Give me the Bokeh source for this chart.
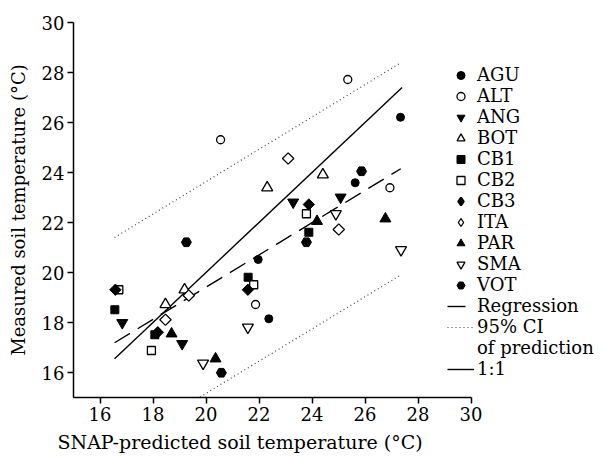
import numpy as np
from bokeh.plotting import figure
from bokeh.models import Range1d, Legend, LegendItem, FixedTicker, Title
from bokeh.embed import file_html
from bokeh.resources import INLINE

x_ticks = [16, 18, 20, 22, 24, 26, 28, 30]
y_ticks = [16, 18, 20, 22, 24, 26, 28, 30]

agu_x = [27.34, 25.63, 21.97, 22.37]; agu_y = [26.21, 23.59, 20.52, 18.15]
alt_x = [25.35, 20.55, 26.94, 21.87]; alt_y = [27.72, 25.31, 23.39, 18.72]
ang_x = [23.29, 25.08, 16.84, 19.10]; ang_y = [22.81, 23.01, 17.99, 17.15]
bot_x = [24.41, 22.31, 18.47, 19.19]; bot_y = [23.91, 23.39, 18.72, 19.31]
cb1_x = [23.88, 21.59, 16.56, 18.07]; cb1_y = [21.61, 19.81, 18.51, 17.51]
cb2_x = [23.79, 21.80, 16.71, 17.94]; cb2_y = [22.35, 19.51, 19.31, 16.88]
cb3_x = [23.88, 21.58, 16.58, 18.18]; cb3_y = [22.72, 19.31, 19.31, 17.61]
ita_x = [23.10, 25.01, 19.35, 18.47]; ita_y = [24.56, 21.72, 19.08, 18.11]
par_x = [24.19, 26.77, 18.70, 20.36]; par_y = [22.05, 22.15, 17.55, 16.55]
sma_x = [24.90, 27.36, 21.58, 19.89]; sma_y = [22.35, 20.91, 17.81, 16.37]
vot_x = [25.87, 23.79, 19.26, 20.58]; vot_y = [24.05, 21.21, 21.21, 15.99]

line_x = [16.55, 27.35]
regression_y = [17.19, 24.15]
ci_upper_y = [21.40, 28.39]
ci_lower_y = [12.94, 19.90]
one_x = [16.55, 27.40]
one_y = [16.55, 27.40]

FONT = "DejaVu Serif"

p = figure(width=603, height=459, output_backend="svg", toolbar_location=None,
           x_range=Range1d(15, 35), y_range=Range1d(15, 30),
           min_border_left=73, min_border_right=0, min_border_top=22, min_border_bottom=62)
p.outline_line_color = None
p.xgrid.visible = False
p.ygrid.visible = False
p.xaxis.bounds = (15, 30)

for ax, ticks in ((p.xaxis[0], x_ticks), (p.yaxis[0], y_ticks)):
    ax.ticker = FixedTicker(ticks=ticks)
    ax.minor_tick_line_color = None
    ax.major_tick_in = 0
    ax.major_tick_out = 6
    ax.axis_line_width = 1.5
    ax.major_tick_line_width = 1.5
    ax.axis_line_color = "black"
    ax.major_tick_line_color = "black"
    ax.major_label_text_font = FONT
    ax.major_label_text_font_size = "18px"
    ax.major_label_text_color = "black"
    ax.axis_label_text_font = FONT
    ax.axis_label_text_font_size = "18px"
    ax.axis_label_text_font_style = "normal"
    ax.axis_label_text_color = "black"
    ax.major_label_standoff = 3

p.yaxis.axis_label = "Measured soil temperature (°C)"
p.yaxis.axis_label_standoff = 10

xlabel = Title(text="SNAP-predicted soil temperature (°C)", align="left", offset=-16,
               text_font=FONT, text_font_size="19px", text_font_style="normal",
               text_color="black", standoff=10)
p.add_layout(xlabel, "below")

# legend-only diamond glyphs (legend ignores marker angle); hidden under the rotated squares
r_cb3_leg = p.scatter(cb3_x, cb3_y, marker="diamond", size=8, fill_color="black", line_color="black", line_width=2.2)
r_ita_leg = p.scatter(ita_x, ita_y, marker="diamond", size=8, fill_color="white", line_color="black", line_width=1.3)

r_ci_u = p.line(line_x, ci_upper_y, line_color="#444444", line_width=1.2, line_dash="1 3")
r_ci_l = p.line(line_x, ci_lower_y, line_color="#444444", line_width=1.2, line_dash="1 3")
r_reg = p.line(line_x, regression_y, line_color="black", line_width=1.4, line_dash="18 9")
r_one = p.line(one_x, one_y, line_color="black", line_width=1.4)
r_blank = p.line([], [], line_alpha=0)

LW = 1.3
r_agu = p.scatter(agu_x, agu_y, marker="circle", size=8, fill_color="black", line_color="black")
r_alt = p.scatter(alt_x, alt_y, marker="circle", size=8, fill_color="white", line_color="black", line_width=LW)
r_ang = p.scatter(ang_x, ang_y, marker="inverted_triangle", size=11, fill_color="black", line_color="black")
r_bot = p.scatter(bot_x, bot_y, marker="triangle", size=11, fill_color="white", line_color="black", line_width=LW)
r_cb1 = p.scatter(cb1_x, cb1_y, marker="square", size=8, fill_color="black", line_color="black")
r_cb2 = p.scatter(cb2_x, cb2_y, marker="square", size=8, fill_color="white", line_color="black", line_width=LW)
r_cb3 = p.scatter(cb3_x, cb3_y, marker="square", angle=np.pi / 4, size=8, fill_color="black", line_color="black")
r_ita = p.scatter(ita_x, ita_y, marker="square", angle=np.pi / 4, size=8, fill_color="white", line_color="black", line_width=LW)
r_par = p.scatter(par_x, par_y, marker="triangle", size=11, fill_color="black", line_color="black")
r_sma = p.scatter(sma_x, sma_y, marker="inverted_triangle", size=11, fill_color="white", line_color="black", line_width=LW)
r_vot = p.scatter(vot_x, vot_y, marker="hex", size=10, fill_color="black", line_color="black")

items = [
    LegendItem(label="AGU", renderers=[r_agu]),
    LegendItem(label="ALT", renderers=[r_alt]),
    LegendItem(label="ANG", renderers=[r_ang]),
    LegendItem(label="BOT", renderers=[r_bot]),
    LegendItem(label="CB1", renderers=[r_cb1]),
    LegendItem(label="CB2", renderers=[r_cb2]),
    LegendItem(label="CB3", renderers=[r_cb3_leg]),
    LegendItem(label="ITA", renderers=[r_ita_leg]),
    LegendItem(label="PAR", renderers=[r_par]),
    LegendItem(label="SMA", renderers=[r_sma]),
    LegendItem(label="VOT", renderers=[r_vot]),
    LegendItem(label="Regression", renderers=[r_reg]),
    LegendItem(label="95% CI", renderers=[r_ci_u]),
    LegendItem(label="of prediction", renderers=[r_blank]),
    LegendItem(label="1:1", renderers=[r_one]),
]
legend = Legend(items=items, location=(374, 18))
legend.border_line_alpha = 0
legend.background_fill_alpha = 0
legend.padding = 0
legend.margin = 0
legend.spacing = 0
legend.glyph_width = 27
legend.glyph_height = 20
legend.label_height = 20
legend.label_standoff = 3
legend.label_text_font = FONT
legend.label_text_font_size = "18px"
legend.label_text_color = "black"
p.add_layout(legend)

open("out.html", "w").write(file_html(p, INLINE))
